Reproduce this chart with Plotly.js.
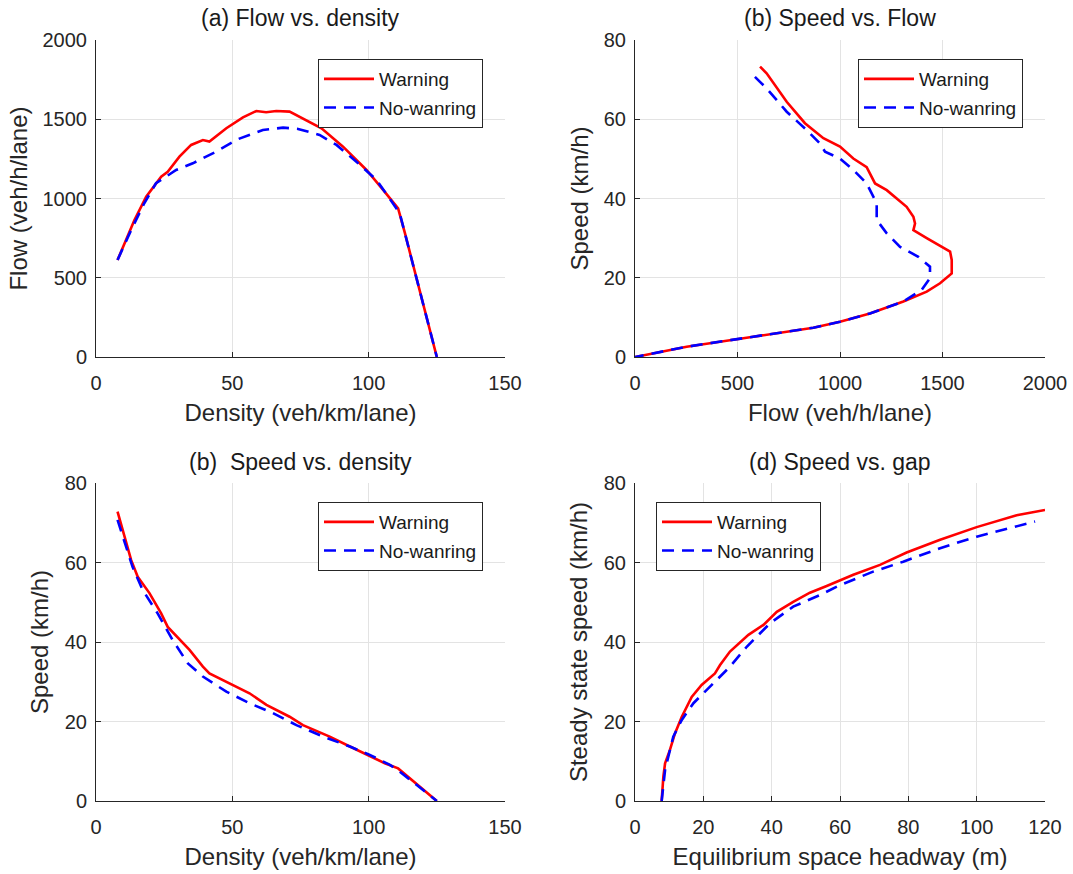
<!DOCTYPE html>
<html>
<head>
<meta charset="utf-8">
<script src="https://cdn.plot.ly/plotly-3.0.1.min.js"></script>
<style>html,body{margin:0;padding:0;background:#fff;}#chart{width:1073px;height:874px;}</style>
</head>
<body>
<div id="chart"></div>
<script>
// ---------- Data ----------
const seriesNames = ["Warning", "No-wanring"];

// (a) Flow vs. density
const aWarnDensity = [7.9, 11, 14.1, 18.4, 23.9, 26.3, 30.6, 34.9, 39.2, 41.6, 47.8, 53.9, 58.8, 62.4, 66.1, 71, 77.1, 82.7, 90.6, 99.2, 105.3, 110.8, 113.3, 118.7, 125];
const aWarnFlow    = [612, 738, 864, 1012, 1138, 1169, 1264, 1338, 1369, 1359, 1443, 1512, 1552, 1544, 1552, 1548, 1491, 1443, 1327, 1180, 1054, 938, 781, 423, 0];
const aNoDensity   = [7.9, 12.9, 17.7, 22, 29.4, 35.5, 44.1, 52, 61.2, 68.6, 74.1, 82, 88.2, 95.5, 102.9, 109, 111.4, 125];
const aNoFlow      = [612, 801, 970, 1096, 1180, 1222, 1296, 1374, 1432, 1447, 1439, 1401, 1338, 1232, 1117, 970, 907, 0];

// (b) Speed vs. Flow
const bWarnFlow  = [610, 642, 740, 829, 919, 1000, 1065, 1130, 1171, 1228, 1325, 1358, 1366, 1358, 1423, 1537, 1545, 1545, 1488, 1423, 1309, 1146, 1000, 870, 577, 252, 0];
const bWarnSpeed = [73.3, 71.6, 64.4, 59, 55.2, 53.1, 50.1, 47.9, 43.8, 42.1, 37.9, 35.4, 33.7, 32.0, 30.0, 26.6, 24.5, 21.1, 18.6, 16.5, 14.0, 11.0, 8.9, 7.4, 5.1, 2.6, 0];
const bNoFlow    = [585, 642, 740, 837, 902, 927, 1000, 1065, 1130, 1179, 1179, 1228, 1293, 1382, 1439, 1439, 1398, 1309, 1146, 1000, 870, 577, 252, 0];
const bNoSpeed   = [70.7, 67.8, 61.9, 57.3, 53.9, 51.8, 50.1, 47.2, 43.8, 38.8, 34.6, 31.2, 27.8, 25.3, 22.8, 19.9, 16.9, 14.0, 11.0, 8.9, 7.4, 5.1, 2.6, 0];

// (c) Speed vs. density
const cWarnDensity = [7.9, 9.8, 12.9, 15.3, 19.6, 23.9, 26.3, 34.3, 39.2, 41.6, 47.8, 56.3, 62.5, 71, 75.9, 85.7, 93.1, 99.2, 105.9, 110.8, 125];
const cWarnSpeed   = [72.8, 68.2, 60.6, 56.4, 52.3, 47.2, 43.8, 38.0, 33.8, 32.1, 30.0, 27.1, 24.2, 21.2, 19.1, 16.2, 13.7, 11.6, 9.5, 8.2, 0];
const cNoDensity   = [7.9, 9.8, 13.4, 17.1, 22.6, 28.1, 33.7, 39.2, 47.8, 56.3, 64.9, 73.5, 83.3, 93.1, 100.4, 107.8, 111.4, 125];
const cNoSpeed     = [70.7, 66.5, 58.9, 53.1, 47.2, 40.5, 34.6, 31.3, 27.5, 24.6, 22.1, 19.1, 16.2, 13.7, 11.6, 9.1, 7.4, 0];

// (d) Speed vs. gap
const dWarnGap   = [7.8, 8.3, 8.8, 10.2, 11.7, 13.7, 16.6, 19.5, 23.4, 24.9, 27.8, 33.2, 37.6, 41.5, 46.3, 51.2, 56.1, 63.9, 71.7, 79.5, 89.3, 100, 111.7, 120];
const dWarnSpeed = [0, 6.1, 9.5, 12.8, 17.0, 21.2, 26.2, 29.2, 32.1, 34.2, 37.6, 41.8, 44.3, 47.6, 50.1, 52.4, 54.1, 56.9, 59.4, 62.5, 65.7, 68.9, 71.9, 73.2];
const dNoGap     = [7.8, 8.8, 11.2, 13.7, 17.1, 22, 27.8, 32.7, 39.5, 46.3, 54.1, 60, 69.7, 78.5, 89.3, 100, 109.8, 117.1];
const dNoSpeed   = [0, 7.8, 16.2, 20.4, 24.6, 28.8, 33.8, 38.8, 44.7, 48.9, 51.8, 54.3, 57.7, 60.2, 63.6, 66.5, 68.6, 70.3];

// Axis ticks / titles
const densityTicks = [0, 50, 100, 150];
const flowTicks    = [0, 500, 1000, 1500, 2000];
const speedTicks   = [0, 20, 40, 60, 80];
const gapTicks     = [0, 20, 40, 60, 80, 100, 120];
const panelTitles  = ["(a) Flow vs. density", "(b) Speed vs. Flow", "(b)\u00a0 Speed vs. density", "(d) Speed vs. gap"];

// ---------- Styling ----------
const FONT = "Liberation Sans, Arial, Helvetica, sans-serif";
const TXT = "#262626";
const RED = "#ff0000", BLUE = "#0000ff";
const DASH = "12px,8px";

function trace(x, y, isWarn, xa, ya, legend) {
  return {
    x: x, y: y, type: "scatter", mode: "lines",
    name: isWarn ? seriesNames[0] : seriesNames[1],
    legendgroup: legend + (isWarn ? "_w" : "_n"),
    line: isWarn ? {color: RED, width: 2.6} : {color: BLUE, width: 2.6, dash: DASH},
    xaxis: xa, yaxis: ya, legend: legend, showlegend: true
  };
}

const data = [
  trace(aWarnDensity, aWarnFlow, true, "x", "y", "legend"),
  trace(aNoDensity, aNoFlow, false, "x", "y", "legend"),
  trace(bWarnFlow, bWarnSpeed, true, "x2", "y2", "legend2"),
  trace(bNoFlow, bNoSpeed, false, "x2", "y2", "legend2"),
  trace(cWarnDensity, cWarnSpeed, true, "x3", "y3", "legend3"),
  trace(cNoDensity, cNoSpeed, false, "x3", "y3", "legend3"),
  trace(dWarnGap, dWarnSpeed, true, "x4", "y4", "legend4"),
  trace(dNoGap, dNoSpeed, false, "x4", "y4", "legend4")
];

const W = 1073, H = 874;
const leftDom = [96 / W, 505 / W], rightDom = [635 / W, 1045 / W];
const topDom = [1 - 357 / H, 1 - 40 / H], botDom = [1 - 801 / H, 1 - 483 / H];

function xax(dom, anchor, range, ticks, title) {
  return {
    domain: dom, anchor: anchor, range: range, tickvals: ticks, ticktext: ticks.map(String),
    showline: true, linecolor: TXT, linewidth: 1, mirror: false,
    ticks: "inside", ticklen: 5, tickcolor: TXT, tickwidth: 1,
    showgrid: true, gridcolor: "#e3e3e3", gridwidth: 1, zeroline: false,
    tickfont: {family: FONT, size: 20, color: TXT},
    ticklabelstandoff: 8,
    title: {text: title, font: {family: FONT, size: 24, color: TXT}, standoff: 11},
    fixedrange: true
  };
}
function yax(dom, anchor, range, ticks, title, standoff) {
  const a = xax(dom, anchor, range, ticks, title);
  a.ticklabelstandoff = 4;
  a.title.standoff = standoff;
  return a;
}

function legendAt(x, y, xanchor) {
  return {
    x: x, y: y, xref: "paper", yref: "paper", xanchor: xanchor, yanchor: "top",
    bgcolor: "#ffffff", bordercolor: "#262626", borderwidth: 1,
    font: {family: FONT, size: 19, color: "#1a1a1a"},
    itemwidth: 50, tracegroupgap: 1, traceorder: "grouped"
  };
}

const layout = {
  width: W, height: H,
  margin: {l: 0, r: 0, t: 0, b: 0},
  paper_bgcolor: "#ffffff", plot_bgcolor: "#ffffff",
  font: {family: FONT, color: TXT},
  xaxis:  xax(leftDom, "y", [0, 150], densityTicks, "Density (veh/km/lane)"),
  yaxis:  yax(topDom, "x", [0, 2000], flowTicks, "Flow (veh/h/lane)", 8),
  xaxis2: xax(rightDom, "y2", [0, 2000], flowTicks, "Flow (veh/h/lane)"),
  yaxis2: yax(topDom, "x2", [0, 80], speedTicks, "Speed (km/h)", 8),
  xaxis3: xax(leftDom, "y3", [0, 150], densityTicks, "Density (veh/km/lane)"),
  yaxis3: yax(botDom, "x3", [0, 80], speedTicks, "Speed (km/h)", 9),
  xaxis4: xax(rightDom, "y4", [0, 120], gapTicks, "Equilibrium space headway (m)"),
  yaxis4: yax(botDom, "x4", [0, 80], speedTicks, "Steady state speed (km/h)", 9),
  legend:  legendAt(483 / W, 1 - 59 / H, "right"),
  legend2: legendAt(1023 / W, 1 - 59 / H, "right"),
  legend3: legendAt(483 / W, 1 - 502 / H, "right"),
  legend4: legendAt(656 / W, 1 - 502 / H, "left"),
  showlegend: true,
  annotations: [
    {text: panelTitles[0], x: (leftDom[0] + leftDom[1]) / 2, y: 1 - 18 / H},
    {text: panelTitles[1], x: (rightDom[0] + rightDom[1]) / 2, y: 1 - 18 / H},
    {text: panelTitles[2], x: (leftDom[0] + leftDom[1]) / 2, y: 1 - 462 / H},
    {text: panelTitles[3], x: (rightDom[0] + rightDom[1]) / 2, y: 1 - 462 / H}
  ].map(a => Object.assign(a, {xref: "paper", yref: "paper", xanchor: "center", yanchor: "middle",
      showarrow: false, font: {family: FONT, size: 23, color: "#1a1a1a"}}))
};

Plotly.newPlot("chart", data, layout, {staticPlot: true, displayModeBar: false});
</script>
</body>
</html>
